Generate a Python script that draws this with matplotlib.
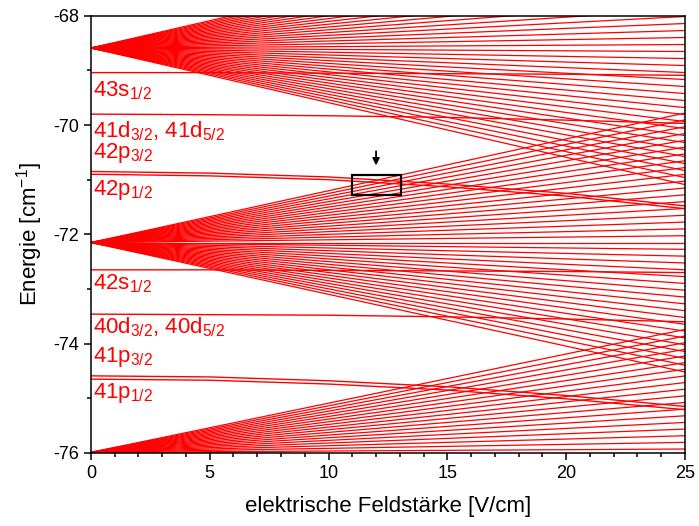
import numpy as np
import matplotlib
matplotlib.use("Agg")
import matplotlib.pyplot as plt
from matplotlib.patches import Rectangle

plt.rcParams['font.family'] = ['Liberation Sans', 'DejaVu Sans']
plt.rcParams['mathtext.fontset'] = 'custom'
plt.rcParams['mathtext.rm'] = 'Liberation Sans'
plt.rcParams['mathtext.it'] = 'Liberation Sans'
plt.rcParams['mathtext.default'] = 'regular'
plt.rcParams['axes.unicode_minus'] = False

# hydrogenic manifolds: principal n, zero-field energy, outermost shift at 25 V/cm
manifold_n = [40, 39, 38]
manifold_E0 = [-68.59, -72.15, -75.99]
manifold_span = [2.50, 2.37, 2.25]
F_end = 25.0

# low-l states, energies at the sample fields (cm^-1)
F_samples = [0, 5, 10, 15, 20, 25]
E_43s = [-69.04, -69.04, -69.05, -69.06, -69.07, -69.09]
E_41d = [-69.80, -69.81, -69.83, -69.86, -69.91, -69.97]
E_42p32 = [-70.85, -70.88, -70.95, -71.08, -71.25, -71.48]
E_42p12 = [-70.90, -70.93, -71.00, -71.13, -71.30, -71.53]
E_42s = [-72.65, -72.65, -72.66, -72.67, -72.68, -72.70]
E_40d = [-73.46, -73.47, -73.48, -73.51, -73.55, -73.60]
E_41p32 = [-74.59, -74.61, -74.68, -74.79, -74.95, -75.15]
E_41p12 = [-74.65, -74.67, -74.74, -74.85, -75.01, -75.21]
low_l = [E_43s, E_41d, E_42p32, E_42p12, E_42s, E_40d, E_41p32, E_41p12]

# state labels and their baseline positions
labels = [r'43s$_{1/2}$', r'41d$_{3/2}$, 41d$_{5/2}$', r'42p$_{3/2}$', r'42p$_{1/2}$',
          r'42s$_{1/2}$', r'40d$_{3/2}$, 40d$_{5/2}$', r'41p$_{3/2}$', r'41p$_{1/2}$']
label_y = [-69.48, -70.22, -70.60, -71.28, -73.00, -73.81, -74.34, -75.00]

red = '#ff0000'

fig = plt.figure(figsize=(6.99, 5.26), dpi=100)
ax = fig.add_axes([0.130, 0.139, 0.850, 0.831])

for n, E0, span in zip(manifold_n, manifold_E0, manifold_span):
    k = np.arange(-(n - 1), n, 2)
    for kk in k:
        ax.plot([0, F_end], [E0, E0 + span * kk / (n - 1)], color=red, lw=0.9)

for E in low_l:
    ax.plot(F_samples, E, color=red, lw=1.0)

for txt, y in zip(labels, label_y):
    ax.text(0.08, y, txt, color=red, fontsize=16, va='baseline', ha='left')

# marked crossing region
ax.add_patch(Rectangle((11.0, -71.28), 2.05, 0.37, fill=False, ec='black', lw=1.6, zorder=5))
ax.annotate('', xy=(12.0, -70.79), xytext=(12.0, -70.43),
            arrowprops=dict(arrowstyle='-|>', color='black', lw=1.3, mutation_scale=10))

ax.set_xlim(0, 25)
ax.set_ylim(-76, -68)
ax.set_xticks([0, 5, 10, 15, 20, 25])
ax.set_xticks(np.arange(0, 26, 1), minor=True)
ax.set_yticks([-76, -74, -72, -70, -68])
ax.set_yticks([-75, -73, -71, -69], minor=True)
ax.tick_params(which='both', direction='out', top=False, right=False, labelsize=13, width=1.1)
ax.tick_params(which='major', length=5)
ax.tick_params(which='minor', length=3)
for s in ax.spines.values():
    s.set_linewidth(1.1)
    s.set_zorder(10)

ax.set_xlabel('elektrische Feldstärke [V/cm]', fontsize=16, labelpad=10)
ax.set_ylabel(r'Energie [cm$^{-1}$]', fontsize=16, labelpad=6)

fig.savefig('out.png', dpi=100)
